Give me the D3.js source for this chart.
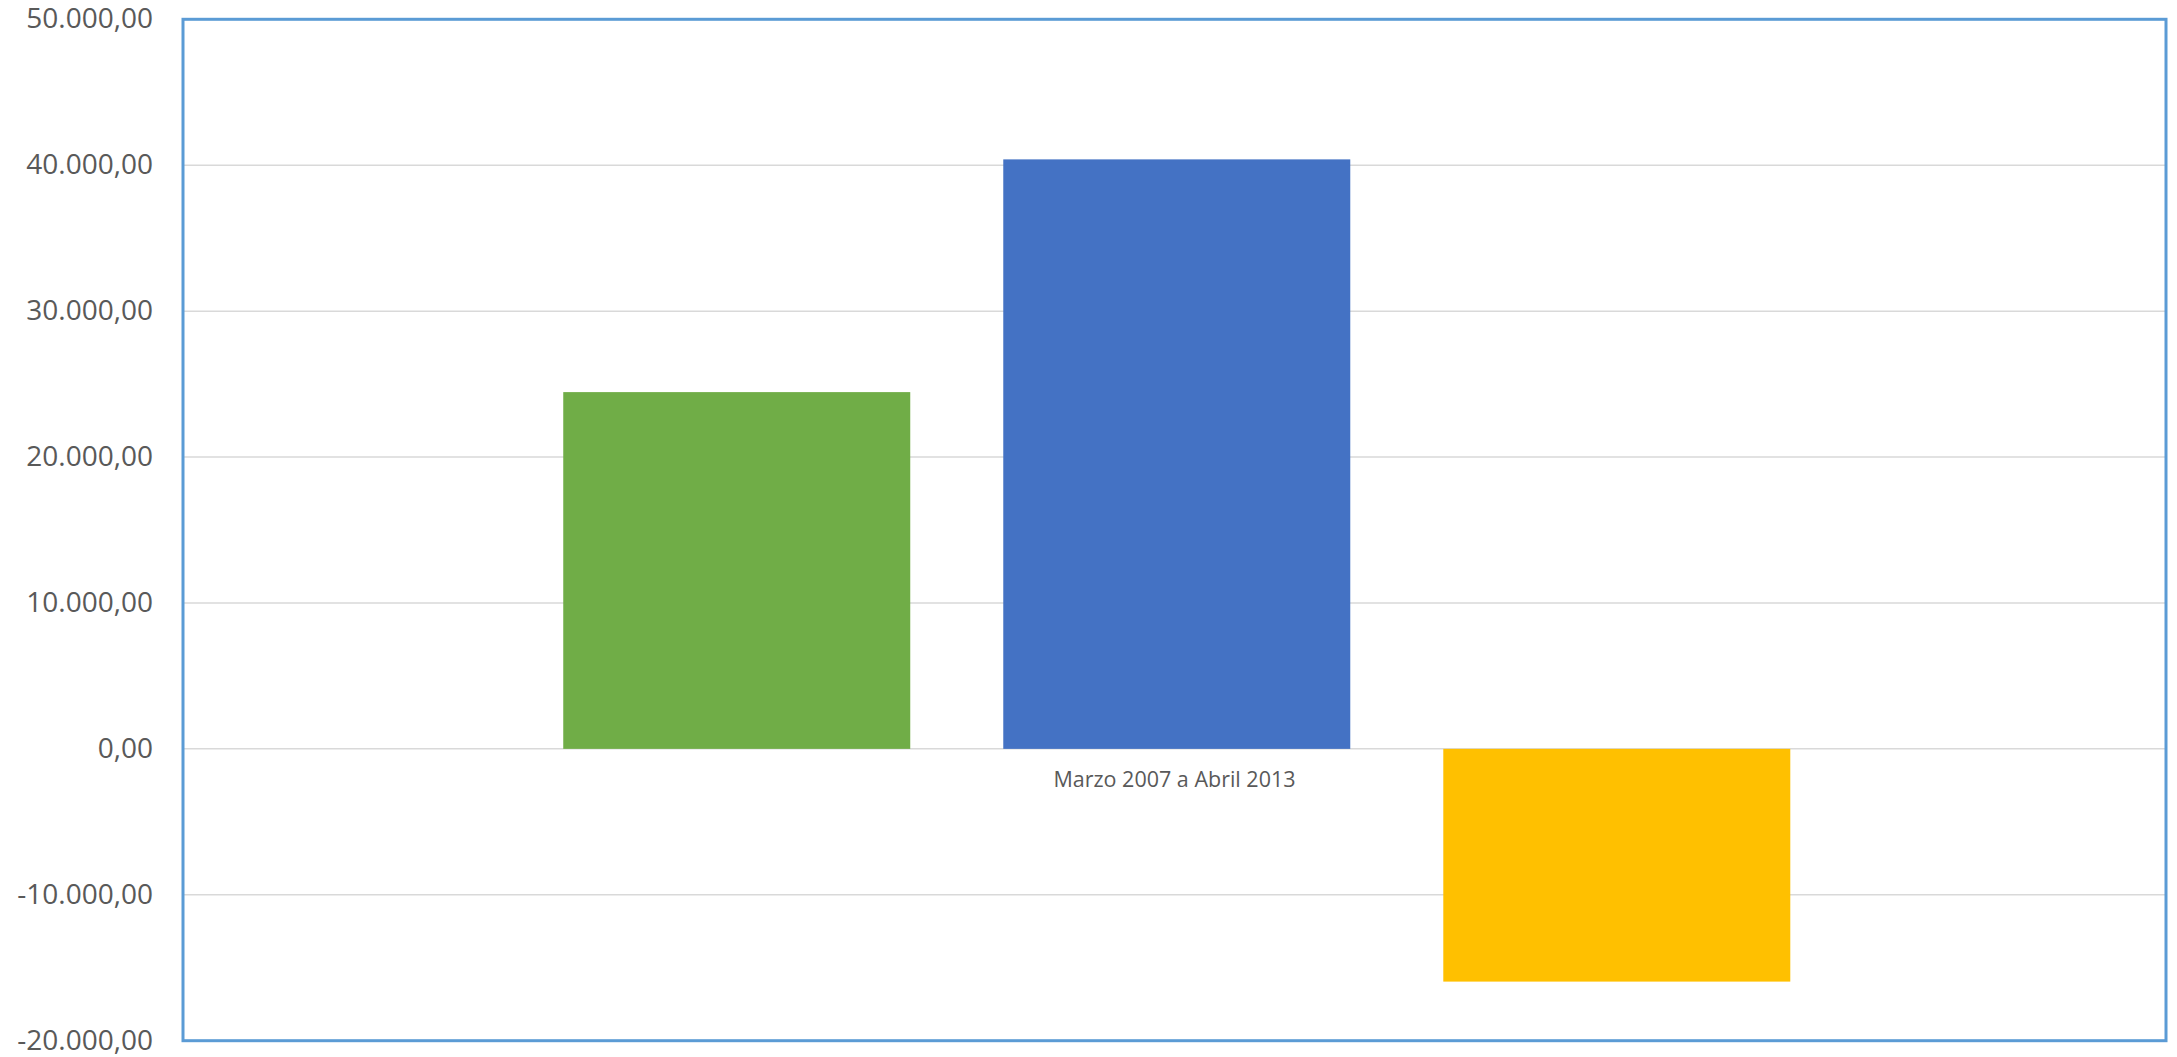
<!DOCTYPE html>
<html>
<head>
<meta charset="utf-8">
<script src="https://cdn.jsdelivr.net/npm/d3@7"></script>
<style>
  html, body { margin: 0; padding: 0; background: #ffffff; }
  svg { display: block; }
</style>
</head>
<body>
<div id="chart"></div>
<script>
// ---- data ----
const categories = ["Marzo 2007 a Abril 2013"];
const seriesNames = ["Serie 1", "Serie 2", "Serie 3"];
const seriesValues = [24450, 40400, -15950];
const seriesColors = ["#70AD47", "#4472C4", "#FFC000"];
const yTicks = [-20000, -10000, 0, 10000, 20000, 30000, 40000, 50000];

// ---- layout ----
const W = 2177, H = 1057;
const plot = { left: 183, top: 19.3, right: 2166, bottom: 1040.7 };

const svg = d3.select("#chart").append("svg")
  .attr("width", W).attr("height", H);

const y = d3.scaleLinear()
  .domain([d3.min(yTicks), d3.max(yTicks)])
  .range([plot.bottom, plot.top]);

const x0 = d3.scaleBand()
  .domain(categories)
  .range([plot.left, plot.right])
  .padding(0);

const x1 = d3.scaleBand()
  .domain(seriesNames)
  .range([0, x0.bandwidth()])
  .paddingInner(0.2114)
  .paddingOuter(0.859)
  .align(0.503);

const fmt = v => {
  const s = d3.format(",.2f")(v);
  return s.replace(/,/g, "#").replace(/\./g, ",").replace(/#/g, ".").replace("−", "-");
};

// gridlines
svg.append("g")
  .selectAll("line")
  .data(yTicks)
  .join("line")
  .attr("x1", plot.left).attr("x2", plot.right)
  .attr("y1", d => y(d)).attr("y2", d => y(d))
  .attr("stroke", "#D9D9D9")
  .attr("stroke-width", 1.5);

// bars
const rows = seriesNames.map((s, i) => ({ cat: categories[0], s, v: seriesValues[i], c: seriesColors[i] }));
svg.append("g")
  .selectAll("rect")
  .data(rows)
  .join("rect")
  .attr("x", d => x0(d.cat) + x1(d.s))
  .attr("width", x1.bandwidth())
  .attr("y", d => y(Math.max(0, d.v)))
  .attr("height", d => Math.abs(y(d.v) - y(0)))
  .attr("fill", d => d.c);

// y axis labels
const yAxis = d3.axisLeft(y).tickValues(yTicks).tickFormat(fmt).tickSize(0).tickPadding(30);
const ga = svg.append("g")
  .attr("transform", `translate(${plot.left},0)`)
  .call(yAxis);
ga.select(".domain").remove();
ga.selectAll("text")
  .attr("font-family", "'Open Sans', sans-serif")
  .attr("font-size", 28)
  .attr("fill", "#595959")
  .attr("dy", "0.3em");

// category label
svg.append("g")
  .selectAll("text")
  .data(categories)
  .join("text")
  .attr("x", d => x0(d) + x0.bandwidth() / 2)
  .attr("y", y(0) + 38.5)
  .attr("text-anchor", "middle")
  .attr("font-family", "'Open Sans', sans-serif")
  .attr("font-size", 21.5)
  .attr("fill", "#595959")
  .text(d => d);

// frame
svg.append("rect")
  .attr("x", plot.left).attr("y", plot.top)
  .attr("width", plot.right - plot.left)
  .attr("height", plot.bottom - plot.top)
  .attr("fill", "none")
  .attr("stroke", "#5B9BD5")
  .attr("stroke-width", 3);
</script>
</body>
</html>
